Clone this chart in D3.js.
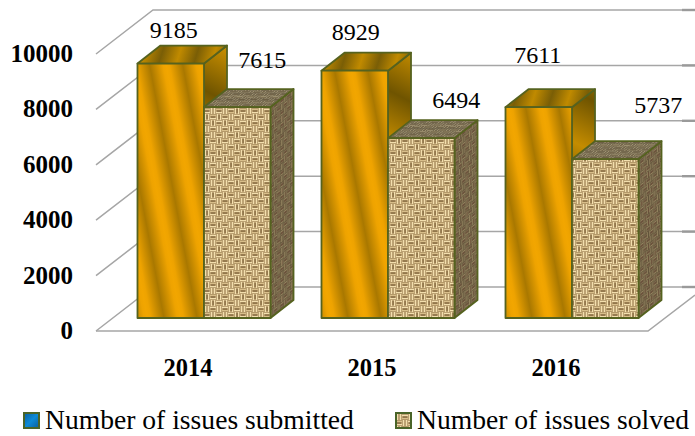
<!DOCTYPE html>
<html>
<head>
<meta charset="utf-8">
<script src="https://cdn.jsdelivr.net/npm/d3@7"></script>
<style>
html,body{margin:0;padding:0;background:#fff}
svg{display:block}
text{font-family:"Liberation Serif","Times New Roman",serif;fill:#000}
</style>
</head>
<body>
<svg id="chart" width="695" height="436"></svg>
<script>
// Chart data
const years = ["2014", "2015", "2016"];
const seriesNames = ["Number of issues submitted", "Number of issues solved"];
const submitted = [9185, 8929, 7611];
const solved = [7615, 6494, 5737];
const yTicks = [0, 2000, 4000, 6000, 8000, 10000];
// Hand-placed value label shifts, one [dx, dy] per bar, relative to the bar's top
const submittedLabelShift = [[3, -8], [1, -13], [-1, -26]];
const solvedLabelShift = [[25, -21], [35, -12], [53, -28]];

const svg = d3.select("#chart");
const defs = svg.append("defs");
const W = 695;

// 3D frame: front floor edge, wall depth and bar depth
const floorY = 331, wallDX = 57, wallDY = 44, barDX = 23, barDY = 18;
const insetX = 16, insetY = 13;
const y = d3.scaleLinear().domain([0, 10000]).range([floorY, floorY - 277]);
const x0 = d3.scaleBand().domain(years).range([96, 648]).paddingInner(0.277).paddingOuter(0.1385);
const x1 = d3.scaleBand().domain(seriesNames).range([0, x0.bandwidth()]);

// Woven sack texture, drawn strand by strand into a pattern tile
function weave(id, tones, transform) {
  const cell = 6, n = 6;
  const [light, soft, mid, dark] = tones;
  const p = defs.append("pattern").attr("id", id)
    .attr("patternUnits", "userSpaceOnUse")
    .attr("width", cell * n).attr("height", cell * n);
  if (transform) p.attr("patternTransform", transform);
  p.append("rect").attr("width", cell * n).attr("height", cell * n).attr("fill", mid);
  d3.cross(d3.range(n), d3.range(n)).forEach(([i, j]) => {
    const g = p.append("g").attr("transform", `translate(${i * cell},${j * cell})`);
    const across = (i + j) % 2 === 0;
    const strand = (offset, fill) => g.append("rect")
      .attr("x", across ? 0 : offset).attr("y", across ? offset : 0)
      .attr("width", across ? cell : 1.6).attr("height", across ? 1.6 : cell)
      .attr("fill", fill);
    const tone = (i * 3 + j * 5) % 4;
    strand(0.7, tone === 0 ? soft : light);
    strand(3.7, tone === 2 ? soft : light);
    if (tone !== 3) {
      g.append("rect").attr("x", across ? 1 : 2.5).attr("y", across ? 2.5 : 1)
        .attr("width", across ? 4 : 1.1).attr("height", across ? 1.1 : 4).attr("fill", dark);
    }
  });
}
weave("sackFront", ["#f3dfae", "#d9bf8b", "#a5885a", "#7c6036"]);
weave("sackSide", ["#93835f", "#7d6a4d", "#5f5138", "#6c4a38"], "skewY(-38) scale(0.55,1)");
weave("sackTop", ["#a39674", "#887a5a", "#5f5540", "#6e5e42"], "skewX(-52) scale(1,0.42)");

// Polished gold banding, one gradient per bar so each bar starts dark at its left edge
function goldBands(id, fromX, fromY, toX, toY, stops) {
  const g = defs.append("linearGradient").attr("id", id)
    .attr("gradientUnits", "userSpaceOnUse")
    .attr("spreadMethod", "reflect")
    .attr("x1", fromX).attr("y1", fromY).attr("x2", toX).attr("y2", toY);
  stops.forEach(([o, c]) => g.append("stop").attr("offset", o).attr("stop-color", c));
}
const frontStops = [[0, "#a97800"], [0.8, "#eea300"], [1, "#f2a600"]];
const topStops = [[0, "#7a5e06"], [1, "#c08a00"]];
const sideStops = [[0, "#6f5400"], [1, "#c48c00"]];

// Walls and floor
const gridColor = "#a6a6a6";
const grid = svg.append("g").attr("fill", "none").attr("stroke", gridColor).attr("stroke-width", 1.5);
yTicks.forEach(t => {
  const yFront = y(t), yBack = yFront - wallDY, xBack = 96 + wallDX;
  grid.append("path").attr("d", d3.line()([[96, yFront], [xBack, yBack], [W, yBack]]));
  grid.append("line").attr("x1", 682).attr("x2", W).attr("y1", yBack).attr("y2", yBack)
    .attr("stroke-width", 2.4).attr("stroke", "#9a9a9a");
});
grid.append("path").attr("d", d3.line()([[96, floorY], [648, floorY], [W, floorY - 36]]));

// Bars
const outline = "#55621f";
function drawBar(g, idx, seriesName, value, frontFill, sideFill, topFill) {
  const xl = x0(years[idx]) + insetX + x1(seriesName);
  const xr = xl + x1.bandwidth();
  const yb = floorY - insetY;
  const yt = y(value) - insetY;
  const poly = (pts, fill) => g.append("polygon").attr("points", pts.join(" "))
    .attr("fill", fill).attr("stroke", outline).attr("stroke-width", 1.8).attr("stroke-linejoin", "round");
  poly([[xr, yt], [xr + barDX, yt - barDY], [xr + barDX, yb - barDY], [xr, yb]], sideFill);
  poly([[xl, yt], [xl + barDX, yt - barDY], [xr + barDX, yt - barDY], [xr, yt]], topFill);
  poly([[xl, yt], [xr, yt], [xr, yb], [xl, yb]], frontFill);
  return { cx: (xl + xr) / 2, top: yt - barDY };
}

const barsLayer = svg.append("g");
const labels = [];
years.forEach((yr, i) => {
  const g = barsLayer.append("g");
  const xl = x0(yr) + insetX;
  goldBands(`goldFront${i}`, xl, 0, xl + 16, -3, frontStops);
  goldBands(`goldTop${i}`, xl + 6, 0, xl + 22, 5, topStops);
  goldBands(`goldSide${i}`, xl + x1.bandwidth() + barDX, 0, xl + x1.bandwidth() + 2, 40, sideStops);
  const a = drawBar(g, i, seriesNames[0], submitted[i], `url(#goldFront${i})`, `url(#goldSide${i})`, `url(#goldTop${i})`);
  const b = drawBar(g, i, seriesNames[1], solved[i], "url(#sackFront)", "url(#sackSide)", "url(#sackTop)");
  labels.push({ v: submitted[i], x: a.cx + submittedLabelShift[i][0], y: a.top + submittedLabelShift[i][1] });
  labels.push({ v: solved[i], x: b.cx + solvedLabelShift[i][0], y: b.top + solvedLabelShift[i][1] });
});

// Value labels
svg.append("g").selectAll("text").data(labels).join("text")
  .attr("x", d => d.x).attr("y", d => d.y)
  .attr("text-anchor", "middle").attr("font-size", 24)
  .text(d => d.v);

// Value axis labels
svg.append("g").selectAll("text").data(yTicks).join("text")
  .attr("x", 73).attr("y", d => y(d) + 8)
  .attr("text-anchor", "end").attr("font-size", 25).attr("font-weight", "bold")
  .text(d => d);

// Year labels
svg.append("g").selectAll("text").data(years).join("text")
  .attr("x", d => x0(d) + x0.bandwidth() / 2).attr("y", 376)
  .attr("text-anchor", "middle").attr("font-size", 24.5).attr("font-weight", "bold")
  .text(d => d);

// Legend
const blue = defs.append("linearGradient").attr("id", "legendBlue")
  .attr("x1", 0).attr("y1", 0).attr("x2", 1).attr("y2", 1);
[[0, "#0b5e9c"], [0.5, "#0d8ad6"], [1, "#0b5e9c"]].forEach(([o, c]) =>
  blue.append("stop").attr("offset", o).attr("stop-color", c));
const legendX = [24, 396];
const legendFill = ["url(#legendBlue)", "url(#sackFront)"];
const legend = svg.append("g").selectAll("g").data(seriesNames).join("g")
  .attr("transform", (d, i) => `translate(${legendX[i]},0)`);
legend.append("rect").attr("x", 0).attr("y", 413).attr("width", 15).attr("height", 15)
  .attr("fill", (d, i) => legendFill[i]).attr("stroke", "#4a6428").attr("stroke-width", 2);
legend.append("text").attr("x", 21).attr("y", 429).attr("font-size", 27.6).text(d => d);
</script>
</body>
</html>
